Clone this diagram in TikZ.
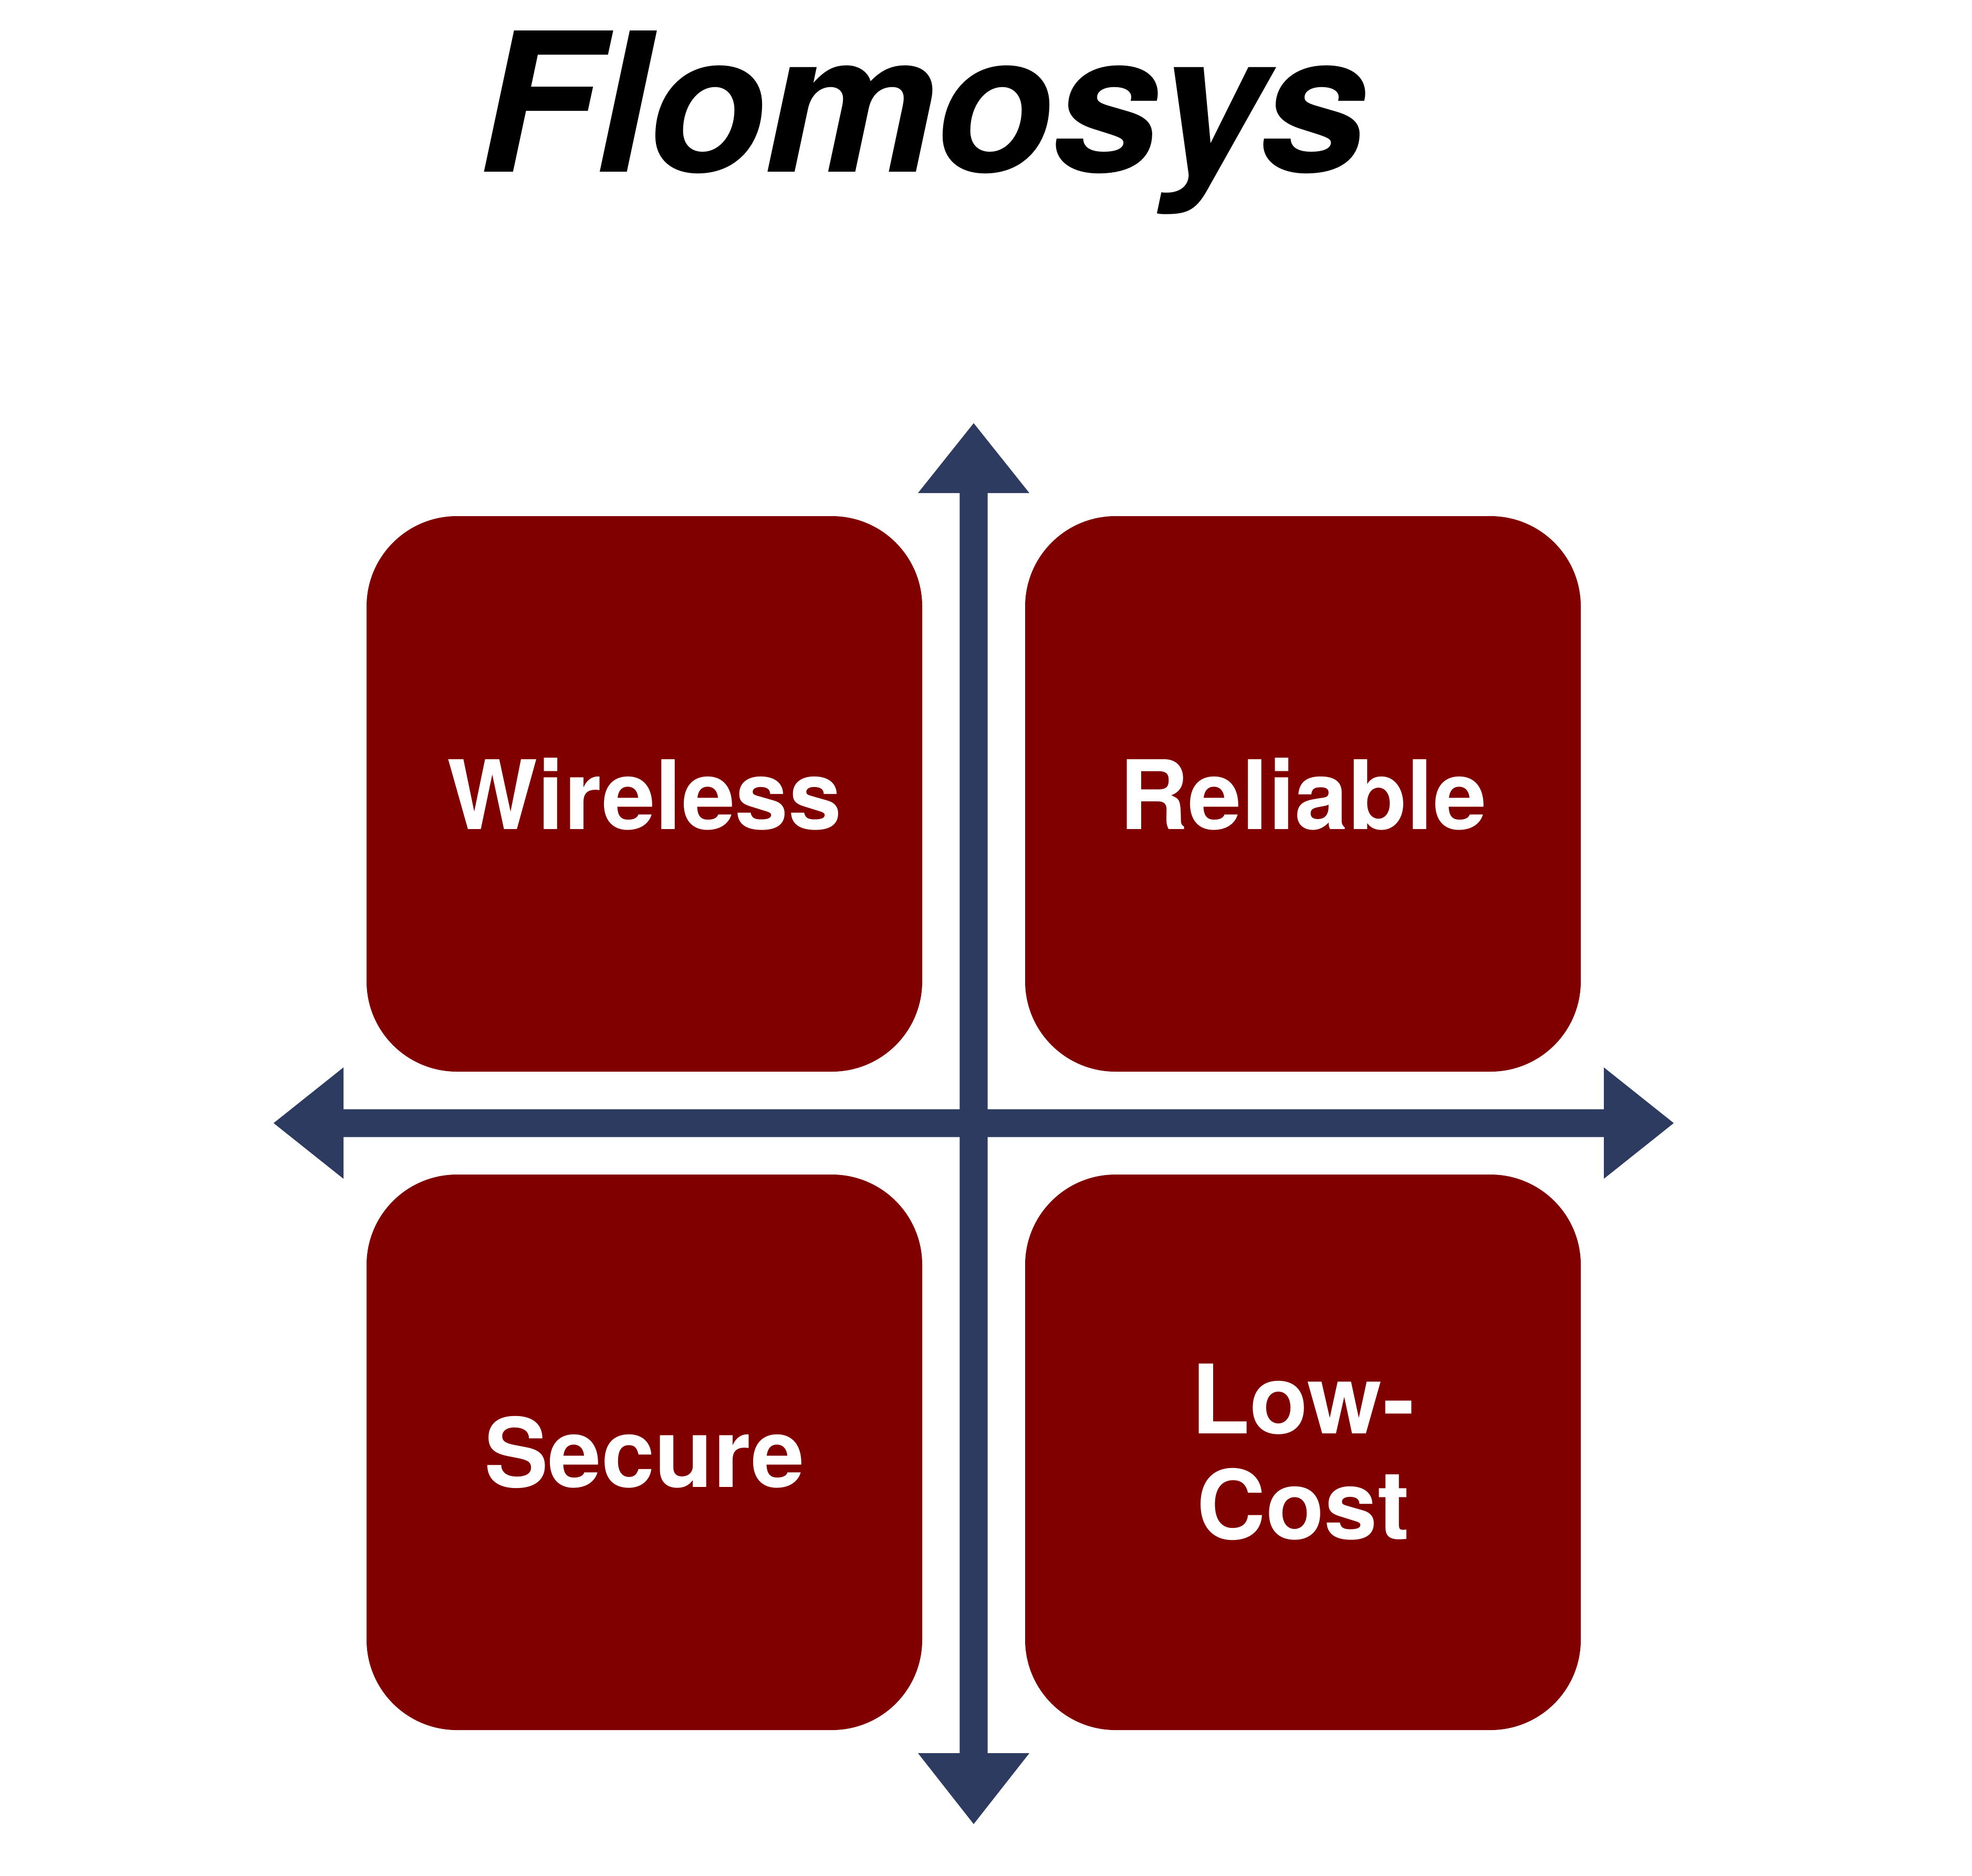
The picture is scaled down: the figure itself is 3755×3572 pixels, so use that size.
\documentclass[tikz,border=0pt]{standalone}
\usepackage{fontspec}
\setmainfont{TeX Gyre Heros}
\definecolor{boxred}{RGB}{128,0,0}
\definecolor{axisblue}{RGB}{46,59,97}
\begin{document}
\begin{tikzpicture}[x=0.2pt,y=-0.2pt,
  quad/.style={fill=boxred, rounded corners=34.4pt, minimum width=211.6pt,
    minimum height=211.6pt, inner sep=0pt, text=white, align=center,
    font=\fontsize{36.5pt}{40.2pt}\selectfont\bfseries},
  axisfill/.style={fill=axisblue}]
\useasboundingbox (0,0) rectangle (3755,3572);
% title
\node[anchor=base, inner sep=0pt, font=\fontsize{73.8pt}{80pt}\selectfont\bfseries\itshape\addfontfeatures{LetterSpace=-0.8}] (title) at (1756,327) {Flomosys};
% centre of the cross
\coordinate (O) at (1854,2139);
% quadrant boxes
\node[quad] (wireless) at (1227,1512) {Wireless};
\node[quad] (reliable) at (2481,1512) {Reliable};
\node[quad] (secure)   at (1227,2766) {Secure};
\node[quad] (lowcost)  at (2481,2766) {Low-\\Cost};
% axes
\begin{scope}[shift={(O)}]
  \coordinate (top) at (0,-1333);
  \coordinate (bottom) at (0,1335);
  \coordinate (left) at (-1333,0);
  \coordinate (right) at (1333,0);
  \fill[axisfill] (top) -- (106,-1200) -- (26.7,-1200) -- (26.7,1200) -- (106,1200)
     -- (bottom) -- (-106,1200) -- (-26.7,1200) -- (-26.7,-1200) -- (-106,-1200) -- cycle;
  \fill[axisfill] (left) -- (-1200,-106) -- (-1200,-26.5) -- (1200,-26.5) -- (1200,-106)
     -- (right) -- (1200,106) -- (1200,26.5) -- (-1200,26.5) -- (-1200,106) -- cycle;
\end{scope}
\end{tikzpicture}
\end{document}
